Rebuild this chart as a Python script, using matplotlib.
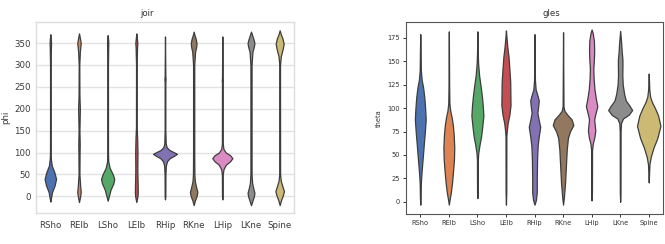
import numpy as np
import matplotlib
matplotlib.use('Agg')
import matplotlib.pyplot as plt

joints = ['RSho', 'RElb', 'LSho', 'LElb', 'RHip', 'RKne', 'LHip', 'LKne', 'Spine']
colors = ['#4C72B0', '#DD8452', '#55A868', '#C44E52', '#8172B3',
          '#937860', '#DA8BC3', '#8C8C8C', '#CCB974']

# violin outlines: angle levels and half widths (category units)
phi_levels = [
    [-12, -5, 10, 25, 40, 55, 70, 85, 100, 150, 300, 340, 350, 360, 370],
    [-13, 0, 10, 25, 50, 100, 120, 150, 200, 230, 300, 330, 350, 362, 372],
    [-10, 0, 15, 30, 40, 50, 65, 80, 100, 300, 345, 355, 368],
    [-13, 0, 10, 30, 60, 100, 130, 160, 300, 340, 350, 360, 372],
    [-7, 0, 50, 70, 80, 87, 92, 97, 101, 106, 112, 120, 150, 260, 268, 276, 365],
    [-20, -10, 0, 10, 20, 35, 50, 100, 300, 330, 342, 350, 360, 368, 376],
    [-7, 0, 50, 62, 72, 80, 87, 94, 100, 108, 120, 260, 265, 270, 365],
    [-20, -10, 0, 8, 18, 30, 50, 300, 330, 342, 350, 358, 368, 376],
    [-20, -8, 2, 12, 22, 35, 50, 300, 320, 335, 348, 360, 370, 379],
]
phi_widths = [
    [0, 0.02, 0.06, 0.15, 0.2, 0.14, 0.05, 0.02, 0.012, 0.01, 0.01, 0.02, 0.025, 0.015, 0],
    [0, 0.04, 0.06, 0.04, 0.015, 0.02, 0.025, 0.015, 0.03, 0.015, 0.01, 0.03, 0.06, 0.03, 0],
    [0, 0.04, 0.1, 0.2, 0.23, 0.18, 0.07, 0.02, 0.012, 0.01, 0.02, 0.02, 0],
    [0, 0.04, 0.05, 0.045, 0.035, 0.04, 0.03, 0.012, 0.01, 0.025, 0.035, 0.02, 0],
    [0, 0.012, 0.015, 0.03, 0.07, 0.16, 0.3, 0.42, 0.3, 0.15, 0.06, 0.025, 0.012, 0.012, 0.02, 0.012, 0],
    [0, 0.04, 0.1, 0.13, 0.09, 0.04, 0.025, 0.02, 0.02, 0.05, 0.09, 0.1, 0.07, 0.03, 0],
    [0, 0.012, 0.015, 0.04, 0.12, 0.27, 0.35, 0.27, 0.12, 0.04, 0.015, 0.012, 0.02, 0.012, 0],
    [0, 0.05, 0.1, 0.12, 0.08, 0.04, 0.02, 0.02, 0.05, 0.1, 0.12, 0.09, 0.04, 0],
    [0, 0.05, 0.11, 0.15, 0.1, 0.04, 0.015, 0.012, 0.04, 0.1, 0.14, 0.1, 0.04, 0],
]

theta_levels = [
    [-3, 5, 20, 30, 45, 60, 75, 88, 100, 112, 122, 130, 140, 160, 179],
    [-3, 3, 10, 20, 30, 45, 58, 72, 82, 90, 97, 105, 120, 182],
    [4, 10, 45, 52, 60, 70, 80, 92, 102, 112, 122, 135, 148, 160, 182],
    [-3, 10, 70, 76, 84, 93, 103, 115, 128, 142, 155, 165, 175, 183],
    [-3, 2, 10, 25, 45, 60, 70, 80, 87, 95, 102, 108, 113, 120, 130, 179],
    [-3, 5, 20, 38, 56, 68, 75, 82, 88, 93, 97, 102, 181],
    [1.5, 10, 55, 62, 68, 76, 82, 88, 95, 102, 110, 120, 132, 142, 152, 162, 172, 180, 184],
    [0, 10, 75, 84, 89, 93, 98, 103, 108, 115, 125, 135, 145, 152, 160, 170, 182.5],
    [20.7, 30, 40, 48, 58, 68, 81, 92, 100, 106, 112, 120, 137],
]
theta_widths = [
    [0, 0.012, 0.02, 0.04, 0.08, 0.12, 0.16, 0.19, 0.17, 0.14, 0.1, 0.05, 0.02, 0.012, 0],
    [0, 0.03, 0.07, 0.11, 0.14, 0.18, 0.19, 0.17, 0.14, 0.1, 0.05, 0.02, 0.012, 0],
    [0, 0.012, 0.015, 0.03, 0.07, 0.13, 0.17, 0.21, 0.19, 0.16, 0.12, 0.06, 0.025, 0.012, 0],
    [0, 0.012, 0.015, 0.03, 0.06, 0.12, 0.16, 0.155, 0.15, 0.12, 0.09, 0.05, 0.02, 0],
    [0, 0.05, 0.08, 0.08, 0.09, 0.11, 0.15, 0.2, 0.15, 0.1, 0.13, 0.15, 0.11, 0.04, 0.015, 0],
    [0, 0.03, 0.07, 0.1, 0.13, 0.17, 0.24, 0.36, 0.3, 0.15, 0.05, 0.015, 0],
    [0, 0.012, 0.015, 0.04, 0.09, 0.13, 0.11, 0.09, 0.14, 0.2, 0.15, 0.1, 0.07, 0.06, 0.08, 0.09, 0.08, 0.04, 0],
    [0, 0.012, 0.015, 0.03, 0.1, 0.3, 0.42, 0.32, 0.2, 0.14, 0.09, 0.075, 0.08, 0.08, 0.055, 0.035, 0],
    [0, 0.012, 0.025, 0.07, 0.17, 0.3, 0.41, 0.33, 0.22, 0.12, 0.05, 0.02, 0],
]


def draw_violins(ax, levels, widths):
    for i, (lv, wd) in enumerate(zip(levels, widths)):
        lv = np.asarray(lv, dtype=float)
        wd = np.asarray(wd, dtype=float)
        ax.fill_betweenx(lv, i - wd, i + wd, facecolor=colors[i],
                         edgecolor='#3d3d3d', linewidth=0.9, zorder=2)


fig = plt.figure(figsize=(6.65, 2.44), dpi=100)

# left panel, seaborn whitegrid look
ax1 = fig.add_axes([36 / 665, 31 / 244, 258 / 665, 191 / 244])
draw_violins(ax1, phi_levels, phi_widths)
ax1.set_xlim(-0.5, 8.5)
ax1.set_ylim(-38, 398)
ax1.set_yticks([0, 50, 100, 150, 200, 250, 300, 350])
ax1.set_xticks(range(len(joints)))
ax1.set_xticklabels(joints)
ax1.grid(axis='y', color='#e3e3e3', linewidth=1.0, zorder=0)
ax1.set_axisbelow(True)
for s in ax1.spines.values():
    s.set_color('#dddddd')
    s.set_linewidth(1.0)
ax1.tick_params(length=0, labelsize=6.2, labelcolor='#3a3a3a', pad=4)
ax1.tick_params(axis='x', pad=6)
ax1.set_ylabel('phi', fontsize=6.2, color='#3a3a3a')
ax1.yaxis.set_label_coords(-0.1, 0.5)

# right panel, plain axes with ticks
ax2 = fig.add_axes([406 / 665, 30 / 244, 257 / 665, 192 / 244])
draw_violins(ax2, theta_levels, theta_widths)
ax2.set_xlim(-0.5, 8.5)
ax2.set_ylim(-13, 192)
ax2.set_yticks([0, 25, 50, 75, 100, 125, 150, 175])
ax2.set_xticks(range(len(joints)))
ax2.set_xticklabels(joints)
for s in ax2.spines.values():
    s.set_color('#555555')
    s.set_linewidth(0.8)
ax2.tick_params(length=2.5, width=0.7, color='#333333', labelsize=4.8,
                labelcolor='#333333', pad=2)
ax2.set_ylabel('theta', fontsize=4.8, color='#333333')
ax2.yaxis.set_label_coords(-0.095, 0.5)

fig.text(146.7 / 665, 1 - 14 / 244, 'joir', ha='center', va='center',
         fontsize=6.2, color='#333333')
fig.text(551 / 665, 1 - 14 / 244, 'gles', ha='center', va='center',
         fontsize=6.2, color='#333333')

fig.savefig('out.png', dpi=100)
